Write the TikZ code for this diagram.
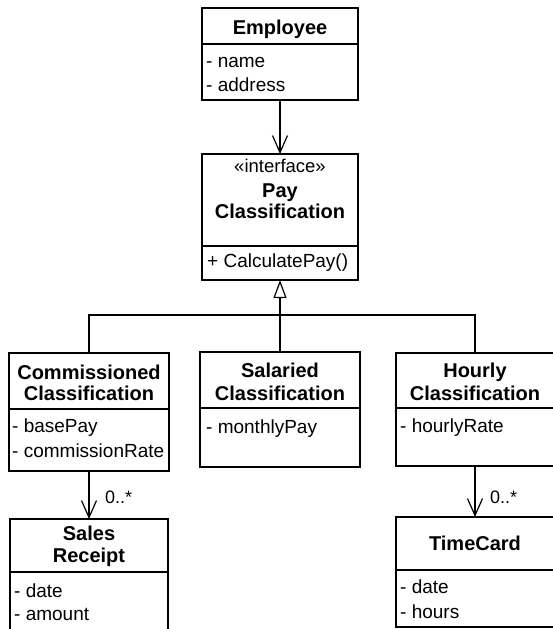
\documentclass[tikz,border=0pt]{standalone}
\usepackage{fontspec}
\setmainfont{Liberation Sans}
\usetikzlibrary{arrows.meta}
\begin{document}
\begin{tikzpicture}[x=1pt,y=-1pt,
  cls/.style={draw, line width=1.2pt, anchor=north west, inner sep=0pt, outer sep=0pt},
  hdr/.style={font=\fontsize{20}{22}\selectfont\bfseries, anchor=base, inner sep=0pt},
  stereo/.style={font=\fontsize{18.5}{21}\selectfont, anchor=base, inner sep=0pt},
  attr/.style={font=\fontsize{19}{24}\selectfont, anchor=base west, inner sep=0pt},
  mult/.style={font=\fontsize{18}{20}\selectfont, anchor=base west, inner sep=0pt},
  assoc/.style={line width=1.2pt, -{Straight Barb[length=17pt,width=15pt,line width=1.2pt]}},
  gen/.style={line width=1.2pt, -{Triangle[open, length=18pt, width=13pt, fill=white, line width=1.2pt]}},
  link/.style={line width=1.2pt},
  divider/.style={line width=1.2pt}]

\useasboundingbox (0,0) rectangle (552,629);

% class frames
\node[cls, minimum width=156pt, minimum height=92pt]  (emp)   at (202,8)   {};
\node[cls, minimum width=156pt, minimum height=126pt] (pay)   at (202,154) {};
\node[cls, minimum width=160pt, minimum height=118pt] (com)   at (9,353)   {};
\node[cls, minimum width=160pt, minimum height=115pt] (sal)   at (200,352) {};
\node[cls, minimum width=158pt, minimum height=113pt] (hour)  at (396,353) {};
\node[cls, minimum width=158pt, minimum height=115pt] (sales) at (10,519)  {};
\node[cls, minimum width=158pt, minimum height=110pt] (time)  at (396,517) {};

% compartment separators
\draw[divider] (emp.north west)   ++(0,36) -- ++(156,0);
\draw[divider] (pay.north west)   ++(0,92) -- ++(156,0);
\draw[divider] (com.north west)   ++(0,56) -- ++(160,0);
\draw[divider] (sal.north west)   ++(0,56) -- ++(160,0);
\draw[divider] (hour.north west)  ++(0,55) -- ++(158,0);
\draw[divider] (sales.north west) ++(0,53) -- ++(158,0);
\draw[divider] (time.north west)  ++(0,53) -- ++(158,0);

% Employee
\node[hdr]  (empN)  at (280,34) {Employee};
\node[attr] (empA1) at (206,67) {- name};
\node[attr] (empA2) at (206,91) {- address};

% Pay Classification
\node[stereo] (payS)  at (280,172) {«interface»};
\node[hdr]    (payN1) at (280,197) {Pay};
\node[hdr]    (payN2) at (280,218) {Classification};
\node[attr]   (payO1) at (207,267) {+ CalculatePay()};

% Commissioned Classification
\node[hdr]  (comN1) at (89,379) {Commissioned};
\node[hdr]  (comN2) at (89,400) {Classification};
\node[attr] (comA1) at (12,432) {- basePay};
\node[attr] (comA2) at (12,457) {- commissionRate};

% Salaried Classification
\node[hdr]  (salN1) at (280,377) {Salaried};
\node[hdr]  (salN2) at (280,400) {Classification};
\node[attr] (salA1) at (206,433) {- monthlyPay};

% Hourly Classification
\node[hdr]  (hourN1) at (475,377) {Hourly};
\node[hdr]  (hourN2) at (475,400) {Classification};
\node[attr] (hourA1) at (400,432) {- hourlyRate};

% Sales Receipt
\node[hdr]  (salesN1) at (89,540) {Sales};
\node[hdr]  (salesN2) at (89,562) {Receipt};
\node[attr] (salesA1) at (14,597) {- date};
\node[attr] (salesA2) at (14,620) {- amount};

% TimeCard
\node[hdr]  (timeN)  at (475,550) {TimeCard};
\node[attr] (timeA1) at (400,593) {- date};
\node[attr] (timeA2) at (400,618) {- hours};

% association Employee -> Pay Classification
\draw[assoc] (emp.south) -- (pay.north);

% generalization tree
\coordinate (hub) at (280,315);
\draw[gen]  (hub) -- (pay.south);
\draw[link] (com.north) |- (hub) -| (hour.north);
\draw[link] (sal.north) -- (hub);

% associations with multiplicities
\draw[assoc] (com.south) -- (sales.north);
\draw[assoc] (hour.south) -- (time.north);
\node[mult] (m1) at (105,503) {0..*};
\node[mult] (m2) at (490,503) {0..*};

\end{tikzpicture}
\end{document}
